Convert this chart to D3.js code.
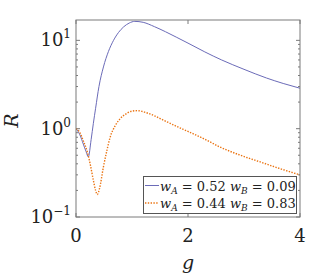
<!DOCTYPE html>
<html>
<head>
<meta charset="utf-8">
<script src="https://cdn.jsdelivr.net/npm/d3@7"></script>
<style>
  body { margin: 0; background: #fff; }
</style>
</head>
<body>
<script>
// data
const gBlue = [0, 0.07, 0.13, 0.18, 0.22, 0.27, 0.31, 0.35, 0.41, 0.49, 0.58, 0.67, 0.76, 0.85, 0.95, 1.05, 1.2, 1.4, 1.6, 1.8, 2.0, 2.3, 2.6, 3.0, 3.4, 3.7, 4.0];
const rBlue = [1.0, 0.85, 0.67, 0.55, 0.48, 0.75, 1.15, 1.7, 3.0, 5.0, 7.5, 10, 12.3, 14.2, 15.7, 16.4, 16.0, 14.3, 12.5, 10.8, 9.3, 7.4, 6.0, 4.7, 3.75, 3.25, 2.87];
const gOrange = [0, 0.07, 0.13, 0.2, 0.26, 0.31, 0.35, 0.38, 0.42, 0.49, 0.55, 0.61, 0.7, 0.79, 0.9, 1.0, 1.1, 1.25, 1.4, 1.56, 1.8, 2.0, 2.3, 2.57, 2.9, 3.29, 3.6, 4.0];
const rOrange = [1.0, 0.9, 0.73, 0.55, 0.38, 0.26, 0.2, 0.18, 0.21, 0.37, 0.56, 0.8, 1.08, 1.3, 1.48, 1.58, 1.6, 1.52, 1.4, 1.25, 1.06, 0.93, 0.76, 0.62, 0.51, 0.42, 0.36, 0.3];
const xTicks = [0, 2, 4];
const yTicks = [0.1, 1, 10];
const yExps = ["-1", "0", "1"];
const series = [
  { label: ["0.52", "0.09"], g: gBlue, r: rBlue, color: "#6b6bb8", dash: null },
  { label: ["0.44", "0.83"], g: gOrange, r: rOrange, color: "#ea7311", dash: "1.4,1.4" }
];

const W = 332, H = 277;
const m = { left: 76, top: 20, right: 32, bottom: 60 };
const iw = W - m.left - m.right, ih = H - m.top - m.bottom;
const serif = "'DejaVu Serif', serif";

const svg = d3.select("body").append("svg")
  .attr("width", W).attr("height", H)
  .style("font-family", serif);

const x = d3.scaleLinear().domain([0, 4]).range([m.left, m.left + iw]);
const y = d3.scaleLog().domain([0.1, 17]).range([m.top + ih, m.top]);

// minor ticks for the log axis
const minor = [];
for (let d = 0.1; d < 17; d *= 10) {
  for (let k = 2; k <= 9; k++) if (d * k < 17) minor.push(d * k);
}

const axisCol = "#7a7a7a";
const tk = svg.append("g").attr("stroke", axisCol).attr("stroke-width", 1);
yTicks.forEach(v => {
  tk.append("line").attr("x1", m.left).attr("x2", m.left + 4).attr("y1", y(v)).attr("y2", y(v));
  tk.append("line").attr("x1", m.left + iw).attr("x2", m.left + iw - 4).attr("y1", y(v)).attr("y2", y(v));
});
minor.forEach(v => {
  tk.append("line").attr("x1", m.left).attr("x2", m.left + 2).attr("y1", y(v)).attr("y2", y(v));
  tk.append("line").attr("x1", m.left + iw).attr("x2", m.left + iw - 2).attr("y1", y(v)).attr("y2", y(v));
});
xTicks.forEach(v => {
  tk.append("line").attr("x1", x(v)).attr("x2", x(v)).attr("y1", m.top + ih).attr("y2", m.top + ih - 4);
  tk.append("line").attr("x1", x(v)).attr("x2", x(v)).attr("y1", m.top).attr("y2", m.top + 4);
});

// tick labels
xTicks.forEach(v => {
  svg.append("text").attr("x", x(v)).attr("y", m.top + ih + 25)
    .attr("text-anchor", "middle").attr("font-size", 18).attr("fill", "#222").text(v);
});
yTicks.forEach((v, i) => {
  const t = svg.append("text").attr("x", m.left - 5).attr("y", y(v) + 6)
    .attr("text-anchor", "end").attr("font-size", 18).attr("fill", "#222");
  t.append("tspan").text("10");
  t.append("tspan").attr("font-size", 12).attr("dy", -8).text(yExps[i].replace("-", "\u2212"));
});

// axis labels
svg.append("text").attr("x", x(2)).attr("y", H - 8)
  .attr("text-anchor", "middle").attr("font-size", 19).attr("font-style", "italic")
  .attr("fill", "#222").text("g");
svg.append("text").attr("transform", `translate(18,${y(1) - 8}) rotate(-90)`)
  .attr("text-anchor", "middle").attr("font-size", 19).attr("font-style", "italic")
  .attr("fill", "#222").text("R");

// curves
svg.append("clipPath").attr("id", "clip").append("rect")
  .attr("x", m.left).attr("y", m.top).attr("width", iw).attr("height", ih);
const line = d3.line().x(d => x(d[0])).y(d => y(d[1])).curve(d3.curveMonotoneX);
series.forEach(s => {
  svg.append("path")
    .datum(s.g.map((g, i) => [g, s.r[i]]))
    .attr("clip-path", "url(#clip)")
    .attr("fill", "none").attr("stroke", s.color)
    .attr("stroke-width", s.dash ? 1.4 : 1)
    .attr("stroke-dasharray", s.dash)
    .attr("d", line);
});

// frame
svg.append("rect").attr("x", m.left).attr("y", m.top).attr("width", iw).attr("height", ih)
  .attr("fill", "none").attr("stroke", axisCol).attr("stroke-width", 1);

// legend
const lg = svg.append("g");
lg.append("rect").attr("x", 143.5).attr("y", 176.5).attr("width", 153).attr("height", 37)
  .attr("fill", "#fff").attr("stroke", "#555").attr("stroke-width", 1);
series.forEach((s, i) => {
  const yy = 185.5 + i * 17.5;
  lg.append("line").attr("x1", 145).attr("x2", 159).attr("y1", yy).attr("y2", yy)
    .attr("stroke", s.color).attr("stroke-width", s.dash ? 1.4 : 1).attr("stroke-dasharray", s.dash);
  const t = lg.append("text").attr("x", 160).attr("y", yy + 5).attr("font-size", 13).attr("fill", "#222");
  t.append("tspan").attr("font-style", "italic").text("w");
  t.append("tspan").attr("font-style", "italic").attr("font-size", 9).attr("dy", 3).text("A");
  t.append("tspan").attr("dy", -3).text(" = " + s.label[0] + " ");
  t.append("tspan").attr("font-style", "italic").text("w");
  t.append("tspan").attr("font-style", "italic").attr("font-size", 9).attr("dy", 3).text("B");
  t.append("tspan").attr("dy", -3).text(" = " + s.label[1]);
});
</script>
</body>
</html>
